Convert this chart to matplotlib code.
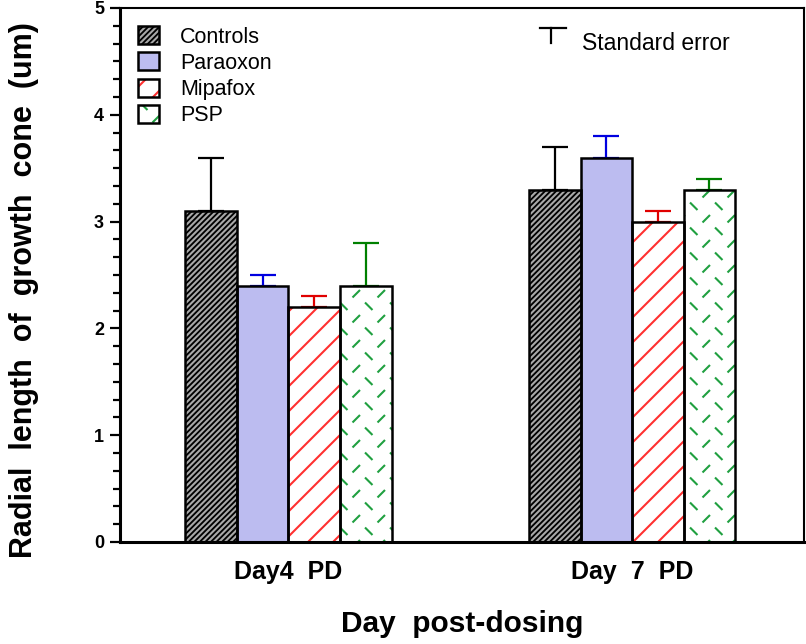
import numpy as np
import matplotlib
matplotlib.use("Agg")
import matplotlib.pyplot as plt
import matplotlib.hatch as mhatch
from matplotlib.patches import Patch
from matplotlib.ticker import MultipleLocator, AutoMinorLocator
from matplotlib.legend_handler import HandlerTuple

# ---------------- data ----------------
groups = ["Day4  PD", "Day  7  PD"]
series = ["Controls", "Paraoxon", "Mipafox", "PSP"]
controls = [3.1, 3.3]
paraoxon = [2.4, 3.6]
mipafox = [2.2, 3.0]
psp = [2.4, 3.3]
controls_se = [0.5, 0.4]
paraoxon_se = [0.1, 0.2]
mipafox_se = [0.1, 0.1]
psp_se = [0.4, 0.1]

values = [controls, paraoxon, mipafox, psp]
errors = [controls_se, paraoxon_se, mipafox_se, psp_se]


# ---------------- custom hatch patterns ----------------
class DashHatch(mhatch.HatchPatternBase):
    """Short green dashes (PSP) - triggered by 'o'."""
    def __init__(self, hatch, density):
        self.on = hatch.count('o') > 0
        n = 8
        pts = []
        for i in range(n):
            for j in range(n):
                if (i + j) % 2 == 0:
                    pts.append(((i + 0.5) / n, (j + 0.5) / n, j % 2 == 0))
        self.pts = pts
        self.num_vertices = len(pts) * 2 if self.on else 0

    def set_vertices_and_codes(self, vertices, codes):
        d = 0.03
        k = 0
        for (x, y, up) in self.pts:
            if up:
                vertices[k] = (x - d, y - d)
                vertices[k + 1] = (x + d, y + d)
            else:
                vertices[k] = (x - d, y + d)
                vertices[k + 1] = (x + d, y - d)
            codes[k] = mhatch.Path.MOVETO
            codes[k + 1] = mhatch.Path.LINETO
            k += 2


class WideDiagonal(mhatch.HatchPatternBase):
    """Sparse '/' lines - triggered by 'O'."""
    def __init__(self, hatch, density):
        self.m = 4 if hatch.count('O') > 0 else 0
        self.num_vertices = (2 * self.m + 1) * 2 if self.m else 0

    def set_vertices_and_codes(self, vertices, codes):
        shifts = np.arange(-self.m, self.m + 1) / self.m
        vertices[0::2, 0] = 0.0 + shifts
        vertices[0::2, 1] = 0.0
        vertices[1::2, 0] = 1.0 + shifts
        vertices[1::2, 1] = 1.0
        codes[0::2] = mhatch.Path.MOVETO
        codes[1::2] = mhatch.Path.LINETO


mhatch._hatch_types = [h for h in mhatch._hatch_types
                       if h not in (mhatch.SmallCircles, mhatch.LargeCircles)] + [DashHatch, WideDiagonal]

# ---------------- style ----------------
plt.rcParams['font.family'] = ['Liberation Sans', 'DejaVu Sans']
plt.rcParams['hatch.linewidth'] = 1.5

fills = ["black", "#bcbcf0", "white", "white"]
hatch_colors = ["#a8a8a8", "#bcbcf0", "#ff3030", "#20a040"]
hatches = ["//////", None, "O", "o"]
err_colors = ["black", "#0000e0", "#e00000", "#008000"]

fig = plt.figure(figsize=(8.06, 6.44), dpi=100)
ax = fig.add_axes([120 / 806, 1 - 542 / 644, 684 / 806, 534 / 644])

x = np.arange(len(groups))
width = 0.15
offsets = (np.arange(len(series)) - 1.5) * width

handles = []
for k in range(len(series)):
    xs = x + offsets[k]
    ax.bar(xs, values[k], width, color=fills[k], edgecolor=hatch_colors[k],
           hatch=hatches[k], linewidth=0, zorder=2)
    ax.bar(xs, values[k], width, fill=False, edgecolor="black", linewidth=1.8, zorder=3)
    ax.errorbar(xs, values[k], yerr=[np.zeros(len(groups)), errors[k]], fmt="none",
                ecolor=err_colors[k], elinewidth=1.6, capsize=9.5, capthick=1.6, zorder=1)
    h1 = Patch(facecolor=fills[k], edgecolor=hatch_colors[k], hatch=hatches[k], linewidth=0)
    h2 = Patch(facecolor="none", edgecolor="black", linewidth=1.8)
    handles.append((h1, h2))

ax.set_xlim(-0.49, 1.50)
ax.set_ylim(0, 5)
ax.set_xticks(x)
ax.set_xticklabels(groups, fontsize=18, fontweight="bold")
ax.tick_params(axis="x", length=0, pad=13)
ax.yaxis.set_major_locator(MultipleLocator(1))
ax.yaxis.set_minor_locator(AutoMinorLocator(6))
ax.tick_params(axis="y", which="major", length=7.5, width=1.6, labelsize=13, pad=4)
ax.tick_params(axis="y", which="minor", length=5, width=1.6)
for lab in ax.get_yticklabels():
    lab.set_fontweight("bold")

for s in ["left", "bottom"]:
    ax.spines[s].set_linewidth(2.2)
for s in ["top", "right"]:
    ax.spines[s].set_linewidth(1.5)

ax.set_xlabel("Day  post-dosing", fontsize=21.5, fontweight="bold", labelpad=19)
ax.set_ylabel("Radial  length  of  growth  cone  (um)", fontsize=22, fontweight="bold")
ax.yaxis.set_label_coords(-0.118, 0.472)

leg = ax.legend(handles, series, handler_map={tuple: HandlerTuple(ndivide=1)},
                loc="upper left", bbox_to_anchor=(0.026, 0.966), frameon=False,
                fontsize=15.5, handlelength=1.0, handleheight=0.9, handletextpad=0.95,
                labelspacing=0.23, borderpad=0, borderaxespad=0)

# "Standard error" key
ax.plot([0.614, 0.652], [0.9625, 0.9625], color="black", lw=1.6, transform=ax.transAxes)
ax.plot([0.630, 0.630], [0.9625, 0.9345], color="black", lw=1.6, transform=ax.transAxes)
ax.text(0.6754, 0.934, "Standard error", fontsize=16.5, va="center", ha="left",
        transform=ax.transAxes)

fig.savefig("out.png", dpi=100)
